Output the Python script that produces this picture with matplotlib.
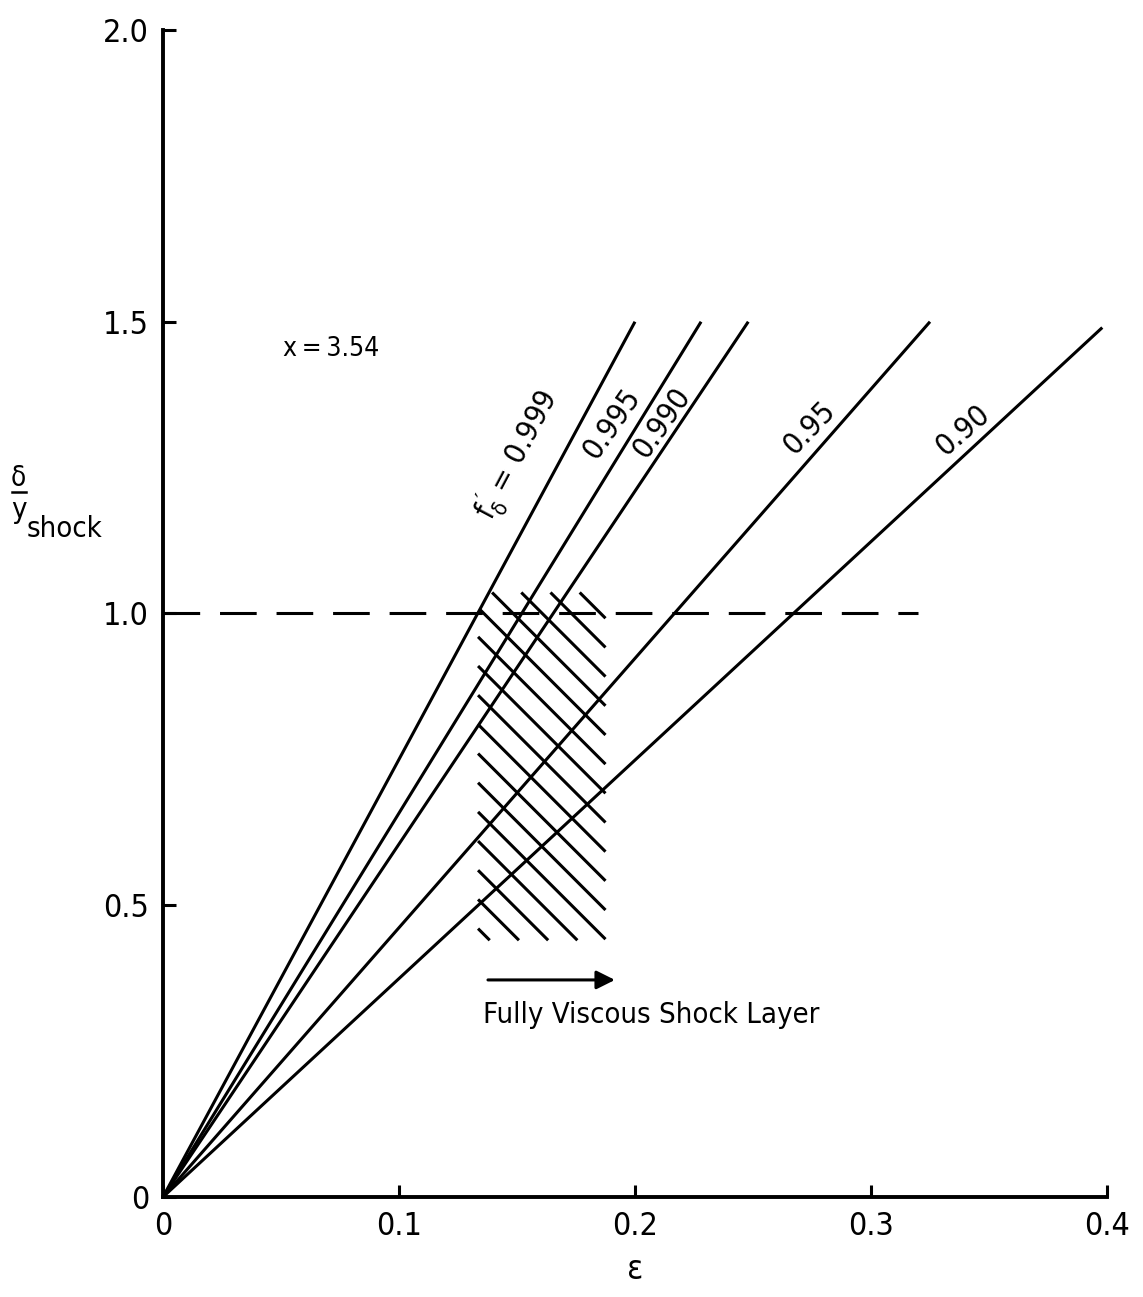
import matplotlib
matplotlib.use('Agg')
import matplotlib.pyplot as plt
from matplotlib.lines import Line2D

plt.rcParams['font.family'] = ['DejaVu Sans']
plt.rcParams['font.stretch'] = 'condensed'
plt.rcParams['mathtext.fontset'] = 'custom'
plt.rcParams['mathtext.rm'] = 'DejaVu Sans:stretch=condensed'
plt.rcParams['mathtext.it'] = 'DejaVu Sans:stretch=condensed:style=normal'

# lines of constant f'_delta, straight through the origin
f_labels = [r"$f_{\delta}^{\,\prime}$ = 0.999", '0.995', '0.990', '0.95', '0.90']
eps_end = [0.200, 0.228, 0.248, 0.325, 0.398]
delta_end = [1.50, 1.50, 1.50, 1.50, 1.49]

# where the labels sit along each line
label_eps = [0.150, 0.190, 0.2114, 0.274, 0.339]
label_delta = [1.271, 1.325, 1.327, 1.317, 1.313]
label_rot = [62, 55, 55, 46, 41]

# dashed line delta = y_shock
ref_eps = [0.0, 0.32]
ref_delta = [1.0, 1.0]

# hatched band (fully viscous shock layer)
hatch_left, hatch_right = 0.1335, 0.1875
hatch_bottom, hatch_top = 0.44, 1.036
hatch_slope = -4.04
hatch_start = [1.21, 1.16, 1.11, 1.06, 1.01, 0.96, 0.91, 0.86,
               0.81, 0.76, 0.71, 0.66, 0.61, 0.56, 0.51, 0.46]

# arrow under the band
arrow_eps = [0.1377, 0.1915]
arrow_delta = 0.372

x_ticks = [0, 0.1, 0.2, 0.3, 0.4]
x_ticklabels = ['0', '0.1', '0.2', '0.3', '0.4']
y_ticks = [0, 0.5, 1.0, 1.5, 2.0]
y_ticklabels = ['0', '0.5', '1.0', '1.5', '2.0']

fig = plt.figure(figsize=(11.43, 12.97), dpi=100)
ax = fig.add_axes([0.1426, 0.0771, 0.8259, 0.8998])

for e, d in zip(eps_end, delta_end):
    ax.plot([0, e], [0, d], color='black', lw=2.2, solid_capstyle='butt')

for lab, x, y, r in zip(f_labels, label_eps, label_delta, label_rot):
    ax.text(x, y, lab, rotation=r, ha='center', va='center', fontsize=22,
            rotation_mode='anchor')

ax.plot(ref_eps, ref_delta, color='black', lw=2.2, dashes=(12, 6.5))

# hatching, clipped to the band and to the right of the 0.999 line
m = delta_end[0] / eps_end[0]
s = hatch_slope
for c in hatch_start:
    x_lo = hatch_left
    x_lo = max(x_lo, hatch_left + (c - hatch_top) / (-s))
    x_lo = max(x_lo, (c - s * hatch_left) / (m - s))
    x_hi = min(hatch_right, hatch_left + (c - hatch_bottom) / (-s))
    if x_hi > x_lo:
        ax.plot([x_lo, x_hi], [c + s * (x_lo - hatch_left), c + s * (x_hi - hatch_left)],
                color='black', lw=2.2, solid_capstyle='butt')

ax.annotate('', xy=(arrow_eps[1], arrow_delta), xytext=(arrow_eps[0], arrow_delta),
            arrowprops=dict(arrowstyle='-|>', lw=2.2, mutation_scale=28, color='black',
                            shrinkA=0, shrinkB=0))
ax.text(0.1356, 0.312, 'Fully Viscous Shock Layer', ha='left', va='center', fontsize=21)
ax.text(0.0508, 1.454, 'x\u2009=\u20093.54', ha='left', va='center', fontsize=19)

ax.set_xlim(0, 0.4)
ax.set_ylim(0, 2.0)
ax.set_xticks(x_ticks)
ax.set_xticklabels(x_ticklabels)
ax.set_yticks(y_ticks)
ax.set_yticklabels(y_ticklabels)
ax.tick_params(direction='in', length=9, width=2.2, labelsize=23, pad=10)
ax.spines['top'].set_visible(False)
ax.spines['right'].set_visible(False)
ax.spines['left'].set_linewidth(2.8)
ax.spines['bottom'].set_linewidth(2.8)
ax.set_xlabel('ε', fontsize=24, labelpad=8)

# y label: delta over y_shock
fig.text(11 / 1143, 1 - 486 / 1297, 'δ', fontsize=20, ha='left', va='baseline')
fig.add_artist(Line2D([12 / 1143, 26 / 1143], [1 - 492 / 1297, 1 - 492 / 1297],
                      color='black', lw=1.8, transform=fig.transFigure))
fig.text(11 / 1143, 1 - 518 / 1297, 'y', fontsize=21, ha='left', va='baseline')
fig.text(27 / 1143, 1 - 537 / 1297, 'shock', fontsize=21, ha='left', va='baseline')

plt.savefig('out.png', dpi=100)
